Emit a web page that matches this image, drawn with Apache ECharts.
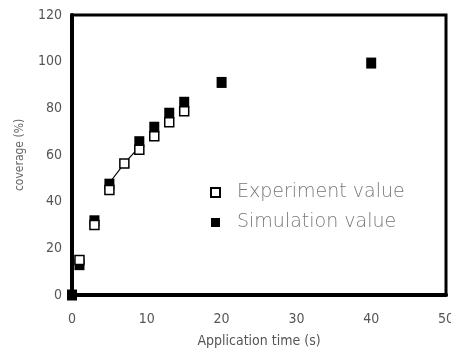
<!DOCTYPE html>
<html>
<head>
<meta charset="utf-8">
<script src="https://cdn.jsdelivr.net/npm/echarts@6/dist/echarts.min.js"></script>
<style>
html, body { margin: 0; padding: 0; background: #fff; }
#main { width: 451px; height: 354px; }
</style>
</head>
<body>
<div id="main"></div>
<script>
// application time (s) and coverage (%)
var expTime = [1, 3, 5, 7, 9, 11, 13, 15];
var expCov = [15, 30, 45, 56.4, 62.3, 68, 74, 78.7];
var simTime = [0, 1, 3, 5, 9, 11, 13, 15, 20, 40];
var simCov = [0, 13, 31.8, 47.5, 65.7, 71.9, 77.9, 82.6, 91.1, 99.4];
var fitTime = [5, 7, 9];
var fitCov = [48, 56.4, 63.5];

function pairs(xs, ys) {
    var out = [];
    for (let i = 0; i < xs.length; i++) out.push([xs[i], ys[i]]);
    return out;
}

var font = "'DejaVu Sans Condensed', sans-serif";
var myChart = echarts.init(document.getElementById('main'));
var option = {
    animation: false,
    grid: {
        left: 72, right: 5, top: 15, bottom: 59,
        outerBoundsMode: 'none',
        show: true,
        borderColor: '#000',
        borderWidth: 3
    },
    legend: {
        data: ['Experiment value', 'Simulation value'],
        orient: 'vertical',
        left: 205,
        top: 178,
        itemWidth: 9,
        itemHeight: 9,
        itemGap: 11,
        textStyle: {
            fontFamily: "'DejaVu Sans', sans-serif",
            fontSize: 19,
            color: '#777',
            fontWeight: 200,
            padding: [0, 0, 0, 12]
        }
    },
    xAxis: {
        type: 'value',
        min: 0, max: 50, interval: 10,
        name: 'Application time (s)',
        nameLocation: 'middle',
        nameGap: 39,
        nameTextStyle: { fontFamily: font, fontSize: 14, color: '#555', fontWeight: 200 },
        axisLine: { lineStyle: { color: '#000', width: 4 } },
        axisTick: { show: false },
        splitLine: { show: false },
        axisLabel: { margin: 17, fontFamily: font, fontSize: 14, color: '#555', fontWeight: 200 }
    },
    yAxis: {
        type: 'value',
        min: 0, max: 120, interval: 20,
        name: 'coverage (%)',
        nameLocation: 'middle',
        nameGap: 46,
        nameTextStyle: { fontFamily: font, fontSize: 12, color: '#666', fontWeight: 200 },
        axisLine: { show: true, lineStyle: { color: '#000', width: 4 } },
        axisTick: { show: false },
        splitLine: { show: false },
        axisLabel: { margin: 10, fontFamily: font, fontSize: 14, color: '#555', fontWeight: 200 }
    },
    series: [
        {
            name: 'fit',
            type: 'line',
            data: pairs(fitTime, fitCov),
            showSymbol: false,
            lineStyle: { color: '#000', width: 1.2 },
            z: 1
        },
        {
            name: 'Simulation value',
            type: 'scatter',
            symbol: 'rect',
            symbolSize: [10, 11],
            data: pairs(simTime, simCov),
            itemStyle: { color: '#000', opacity: 1 },
            z: 2
        },
        {
            name: 'Experiment value',
            type: 'scatter',
            symbol: 'rect',
            symbolSize: [9, 9],
            data: pairs(expTime, expCov),
            itemStyle: { color: '#fff', borderColor: '#000', borderWidth: 1.5, opacity: 1 },
            z: 3
        }
    ]
};
myChart.setOption(option);
</script>
</body>
</html>
